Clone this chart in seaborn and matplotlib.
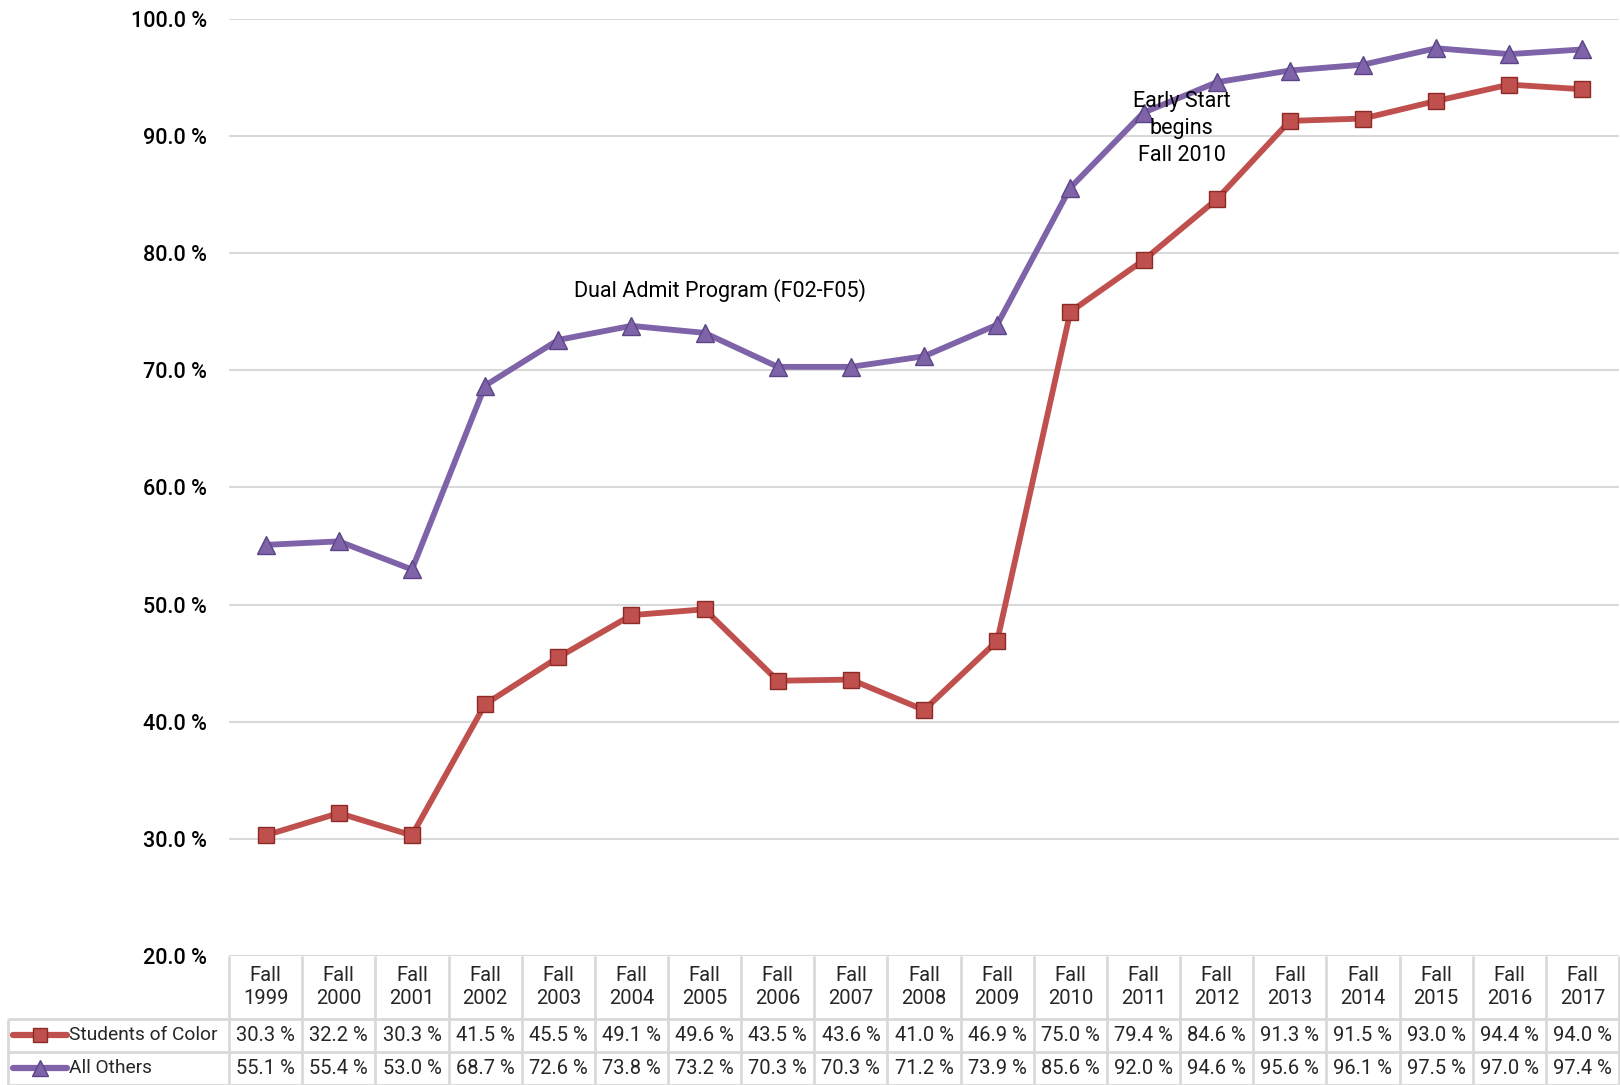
import pandas as pd
import seaborn as sns
import matplotlib.pyplot as plt

# chart data
years = ['1999', '2000', '2001', '2002', '2003', '2004', '2005', '2006', '2007', '2008',
         '2009', '2010', '2011', '2012', '2013', '2014', '2015', '2016', '2017']
students_of_color = [30.3, 32.2, 30.3, 41.5, 45.5, 49.1, 49.6, 43.5, 43.6, 41.0,
                     46.9, 75.0, 79.4, 84.6, 91.3, 91.5, 93.0, 94.4, 94.0]
all_others = [55.1, 55.4, 53.0, 68.7, 72.6, 73.8, 73.2, 70.3, 70.3, 71.2,
              73.9, 85.6, 92.0, 94.6, 95.6, 96.1, 97.5, 97.0, 97.4]
series_names = ['Students of Color', 'All Others']
y_ticks = [20, 30, 40, 50, 60, 70, 80, 90, 100]

sns.set_theme(style='white')
plt.rcParams['font.family'] = ['Roboto', 'DejaVu Sans']

red, red_edge = '#C0504D', '#8C2A28'
purple, purple_edge = '#7F63A8', '#5B4587'
grid_col = '#D9D9D9'

n = len(years)
df = pd.DataFrame({'idx': list(range(n)) * 2,
                   'value': students_of_color + all_others,
                   'series': [series_names[0]] * n + [series_names[1]] * n})

fig = plt.figure(figsize=(16.2, 10.85), dpi=100)
left, width = 0.1414, 0.858
ax = fig.add_axes([left, 0.1189, width, 0.8636])

styles = {series_names[0]: (red, red_edge, 's', 12),
          series_names[1]: (purple, purple_edge, '^', 13)}
for name in series_names:
    c, ec, m, ms = styles[name]
    sns.lineplot(data=df[df['series'] == name], x='idx', y='value', color=c,
                 linewidth=4.2, marker=m, markersize=ms, markeredgecolor=ec,
                 markeredgewidth=1.0, ax=ax, legend=False, zorder=3)

ax.set_xlim(-0.5, n - 0.5)
ax.set_ylim(20, 100)
ax.set_yticks(y_ticks)
ax.set_yticklabels([f'{t:.1f} %' for t in y_ticks], fontsize=15.5, fontweight='medium')
ax.set_xticks([])
ax.set_xlabel('')
ax.set_ylabel('')
ax.yaxis.grid(True, color=grid_col, linewidth=1.5)
ax.tick_params(axis='y', length=0, pad=16, colors='black')
for s in ax.spines.values():
    s.set_visible(False)

ax.text(6.21, 76.8, 'Dual Admit Program (F02-F05)', ha='center', va='center',
        fontsize=15.5, color='black')
ax.text(12.52, 90.65, 'Early Start\nbegins\nFall 2010', ha='center', va='center',
        fontsize=15.5, color='black', linespacing=1.38, zorder=4)

# data table under the plot
tax = fig.add_axes([left, 0.0, width, 0.1189])
tax.set_xlim(-0.5, n - 0.5)
tax.set_ylim(0, 129)
tax.axis('off')
label_left = -3.52
row_top, row_mid, row_bot = 66, 33, 0

for i in range(n + 1):
    tax.vlines(i - 0.5, 0, 129, color=grid_col, lw=2, clip_on=False)
tax.vlines(label_left, 0, row_top, color=grid_col, lw=2, clip_on=False)
for yy in (row_top, row_mid, row_bot):
    tax.hlines(yy, label_left, n - 0.5, color=grid_col, lw=2, clip_on=False)

for i, yr in enumerate(years):
    tax.text(i, 98, f'Fall\n{yr}', ha='center', va='center', fontsize=14.5,
             linespacing=1.25)
    tax.text(i, 49.5, f'{students_of_color[i]:.1f} %', ha='center', va='center',
             fontsize=14.5)
    tax.text(i, 16.5, f'{all_others[i]:.1f} %', ha='center', va='center',
             fontsize=14.5)

for name, yy in zip(series_names, (49.5, 16.5)):
    c, ec, m, ms = styles[name]
    tax.plot([-3.46, -2.72], [yy, yy], color=c, lw=4.5, solid_capstyle='round',
             clip_on=False)
    tax.plot([-3.09], [yy], marker=m, color=c, markersize=ms - 2,
             markeredgecolor=ec, clip_on=False)
    tax.text(-2.69, yy, name, ha='left', va='center', fontsize=13.8)

fig.savefig('out.png', dpi=100)
